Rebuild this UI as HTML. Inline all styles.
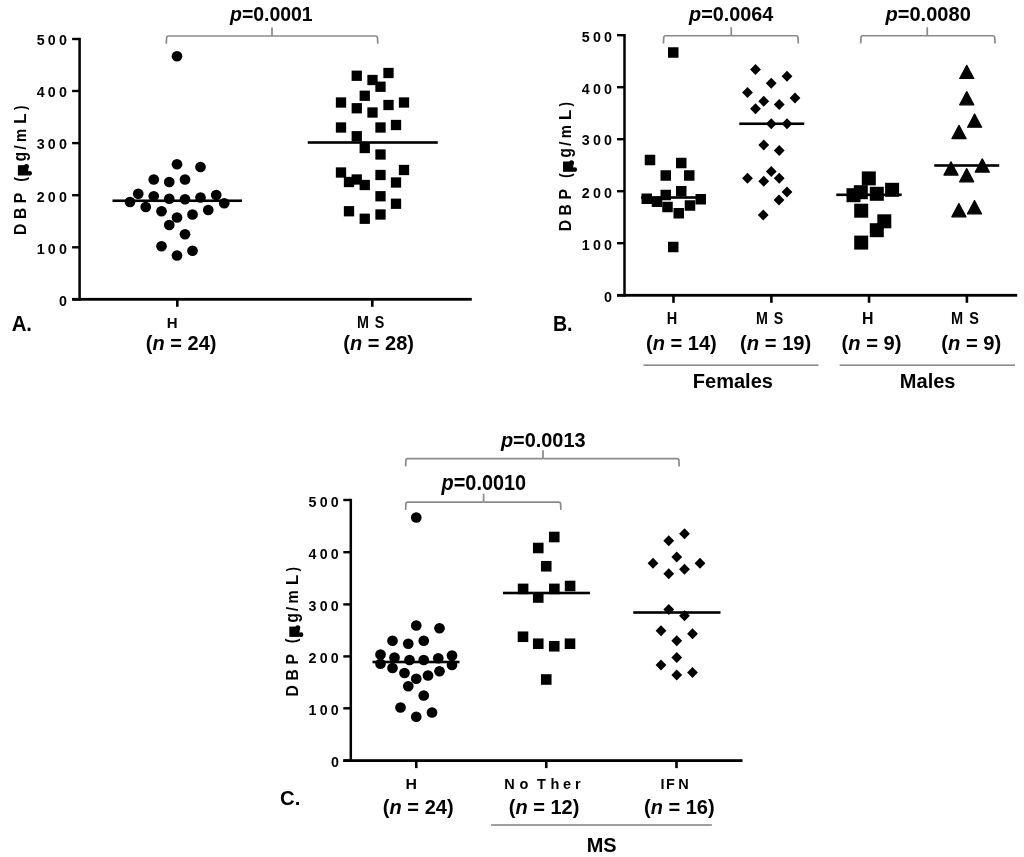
<!DOCTYPE html><html><head><meta charset="utf-8"><title>DBP levels</title><style>html,body{margin:0;padding:0;background:#fff;}svg{display:block;font-family:"Liberation Sans",sans-serif;will-change:transform;}</style></head><body>
<svg width="1024" height="857" viewBox="0 0 1024 857">
<rect width="1024" height="857" fill="#fff"/>
<g fill="#000">
<rect x="78.35" y="37.8" width="2.5" height="262.80" fill="#000"/>
<rect x="72.1" y="297.90" width="399.70" height="2.8" fill="#000"/>
<rect x="72.1" y="37.80" width="7.50" height="2.4" fill="#000"/>
<rect x="72.1" y="89.80" width="7.50" height="2.4" fill="#000"/>
<rect x="72.1" y="141.90" width="7.50" height="2.4" fill="#000"/>
<rect x="72.1" y="194.00" width="7.50" height="2.4" fill="#000"/>
<rect x="72.1" y="246.10" width="7.50" height="2.4" fill="#000"/>
<rect x="72.1" y="298.10" width="7.50" height="2.4" fill="#000"/>
<rect x="176.00" y="299.3" width="2.6" height="7.50" fill="#000"/>
<rect x="371.00" y="299.3" width="2.6" height="7.50" fill="#000"/>
<g transform="matrix(1.0034 0 0 1.0200 36.70 45.40)"><text x="0" y="0" font-size="14.2" font-weight="bold" letter-spacing="3.2">500</text></g>
<g transform="matrix(1.0034 0 0 1.0200 36.70 97.40)"><text x="0" y="0" font-size="14.2" font-weight="bold" letter-spacing="3.2">400</text></g>
<g transform="matrix(1.0034 0 0 1.0200 36.70 149.37)"><text x="0" y="0" font-size="14.2" font-weight="bold" letter-spacing="3.2">300</text></g>
<g transform="matrix(1.0034 0 0 1.0200 36.70 201.60)"><text x="0" y="0" font-size="14.2" font-weight="bold" letter-spacing="3.2">200</text></g>
<g transform="matrix(1.0034 0 0 1.0200 36.70 253.70)"><text x="0" y="0" font-size="14.2" font-weight="bold" letter-spacing="3.2">100</text></g>
<g transform="matrix(1.0034 0 0 1.0200 59.02 305.70)"><text x="0" y="0" font-size="14.2" font-weight="bold" letter-spacing="3.2">0</text></g>
<g transform="translate(0 0)">
<g transform="matrix(1.0489 0 0 0.9500 26.20 234.99)"><g transform="rotate(-90)"><text x="0" y="0" font-size="16.5" font-weight="bold">D</text></g></g>
<g transform="matrix(1.0489 0 0 0.9500 26.20 219.09)"><g transform="rotate(-90)"><text x="0" y="0" font-size="16.5" font-weight="bold">B</text></g></g>
<g transform="matrix(1.0489 0 0 0.9514 26.20 203.19)"><g transform="rotate(-90)"><text x="0" y="0" font-size="16.5" font-weight="bold">P</text></g></g>
<g transform="matrix(0.9806 0 0 0.8842 25.97 181.76)"><g transform="rotate(-90)"><text x="0" y="0" font-size="16.5" font-weight="bold">(</text></g></g>
<g transform="matrix(1.0694 0 0 0.9576 26.26 161.42)"><g transform="rotate(-90)"><text x="0" y="0" font-size="16.5" font-weight="bold">g</text></g></g>
<g transform="matrix(0.9796 0 0 0.9882 26.16 149.75)"><g transform="rotate(-90)"><text x="0" y="0" font-size="16.5" font-weight="bold">/</text></g></g>
<g transform="matrix(1.0333 0 0 0.8960 26.20 142.00)"><g transform="rotate(-90)"><text x="0" y="0" font-size="16.5" font-weight="bold">m</text></g></g>
<g transform="matrix(1.0489 0 0 1.0182 26.20 123.67)"><g transform="rotate(-90)"><text x="0" y="0" font-size="16.5" font-weight="bold">L</text></g></g>
<g transform="matrix(0.9935 0 0 0.8211 26.12 110.10)"><g transform="rotate(-90)"><text x="0" y="0" font-size="16.5" font-weight="bold">)</text></g></g>
<rect x="17.9" y="165.2" width="10.3" height="10.3"/>
<circle cx="26.4" cy="166.4" r="2.5"/>
<circle cx="29.6" cy="173.3" r="2.4"/>
</g>
<path d="M166.29999999999998 43.7L166.6 37.8Q166.6 36 168.4 36L270.8 36Q272 36 272 34.8L272 27.5M272 34.8Q272 36 273.2 36L375.7 36Q377.5 36 377.5 37.8L377.8 43.7" fill="none" stroke="#8a8a8a" stroke-width="1.7"/>
<circle cx="177" cy="56.25" r="5.35"/>
<circle cx="177" cy="164.25" r="5.35"/>
<circle cx="200.5" cy="167" r="5.35"/>
<circle cx="153.75" cy="179.5" r="5.35"/>
<circle cx="169.25" cy="182" r="5.35"/>
<circle cx="185" cy="179.5" r="5.35"/>
<circle cx="138.25" cy="193.75" r="5.35"/>
<circle cx="153.75" cy="196.25" r="5.35"/>
<circle cx="169.25" cy="198.75" r="5.35"/>
<circle cx="185" cy="199.25" r="5.35"/>
<circle cx="200.5" cy="197.5" r="5.35"/>
<circle cx="216.25" cy="195" r="5.35"/>
<circle cx="130" cy="202" r="5.35"/>
<circle cx="224.25" cy="203.25" r="5.35"/>
<circle cx="145.75" cy="207" r="5.35"/>
<circle cx="161.5" cy="211.25" r="5.35"/>
<circle cx="177" cy="217.5" r="5.35"/>
<circle cx="192.5" cy="214.5" r="5.35"/>
<circle cx="208.25" cy="210" r="5.35"/>
<circle cx="169.25" cy="225" r="5.35"/>
<circle cx="185" cy="234.25" r="5.35"/>
<circle cx="161.5" cy="246.25" r="5.35"/>
<circle cx="177" cy="255.5" r="5.35"/>
<circle cx="192.5" cy="250.75" r="5.35"/>
<rect x="112.5" y="199.45" width="129.50" height="2.6" fill="#000"/>
<rect x="351.60" y="70.60" width="10.3" height="10.3"/>
<rect x="367.35" y="74.85" width="10.3" height="10.3"/>
<rect x="383.35" y="67.85" width="10.3" height="10.3"/>
<rect x="375.35" y="81.60" width="10.3" height="10.3"/>
<rect x="359.60" y="90.60" width="10.3" height="10.3"/>
<rect x="335.85" y="97.35" width="10.3" height="10.3"/>
<rect x="351.60" y="103.10" width="10.3" height="10.3"/>
<rect x="367.35" y="107.35" width="10.3" height="10.3"/>
<rect x="383.35" y="99.85" width="10.3" height="10.3"/>
<rect x="398.85" y="97.35" width="10.3" height="10.3"/>
<rect x="335.85" y="122.35" width="10.3" height="10.3"/>
<rect x="351.60" y="131.10" width="10.3" height="10.3"/>
<rect x="375.35" y="122.35" width="10.3" height="10.3"/>
<rect x="390.85" y="119.85" width="10.3" height="10.3"/>
<rect x="359.60" y="142.85" width="10.3" height="10.3"/>
<rect x="375.35" y="149.35" width="10.3" height="10.3"/>
<rect x="335.85" y="167.35" width="10.3" height="10.3"/>
<rect x="343.85" y="176.85" width="10.3" height="10.3"/>
<rect x="351.60" y="174.35" width="10.3" height="10.3"/>
<rect x="359.60" y="179.85" width="10.3" height="10.3"/>
<rect x="375.35" y="169.85" width="10.3" height="10.3"/>
<rect x="390.85" y="177.35" width="10.3" height="10.3"/>
<rect x="398.85" y="164.85" width="10.3" height="10.3"/>
<rect x="375.35" y="191.10" width="10.3" height="10.3"/>
<rect x="390.85" y="198.60" width="10.3" height="10.3"/>
<rect x="343.85" y="206.10" width="10.3" height="10.3"/>
<rect x="359.60" y="213.60" width="10.3" height="10.3"/>
<rect x="375.35" y="209.35" width="10.3" height="10.3"/>
<rect x="307.75" y="141.20" width="130.00" height="2.6" fill="#000"/>
<rect x="623.25" y="34.0" width="2.5" height="262.60" fill="#000"/>
<rect x="617.0" y="293.90" width="400.20" height="2.8" fill="#000"/>
<rect x="617.0" y="34.00" width="7.50" height="2.4" fill="#000"/>
<rect x="617.0" y="86.00" width="7.50" height="2.4" fill="#000"/>
<rect x="617.0" y="138.00" width="7.50" height="2.4" fill="#000"/>
<rect x="617.0" y="190.00" width="7.50" height="2.4" fill="#000"/>
<rect x="617.0" y="242.00" width="7.50" height="2.4" fill="#000"/>
<rect x="617.0" y="294.00" width="7.50" height="2.4" fill="#000"/>
<rect x="672.20" y="295.3" width="2.6" height="7.50" fill="#000"/>
<rect x="770.10" y="295.3" width="2.6" height="7.50" fill="#000"/>
<rect x="867.75" y="295.3" width="2.6" height="7.50" fill="#000"/>
<rect x="965.60" y="295.3" width="2.6" height="7.50" fill="#000"/>
<g transform="matrix(1.0034 0 0 1.0200 581.80 41.50)"><text x="0" y="0" font-size="14.2" font-weight="bold" letter-spacing="3.2">500</text></g>
<g transform="matrix(1.0034 0 0 1.0200 581.80 93.50)"><text x="0" y="0" font-size="14.2" font-weight="bold" letter-spacing="3.2">400</text></g>
<g transform="matrix(1.0034 0 0 1.0200 581.80 145.37)"><text x="0" y="0" font-size="14.2" font-weight="bold" letter-spacing="3.2">300</text></g>
<g transform="matrix(1.0034 0 0 1.0200 581.80 197.50)"><text x="0" y="0" font-size="14.2" font-weight="bold" letter-spacing="3.2">200</text></g>
<g transform="matrix(1.0034 0 0 1.0200 581.80 249.50)"><text x="0" y="0" font-size="14.2" font-weight="bold" letter-spacing="3.2">100</text></g>
<g transform="matrix(1.0034 0 0 1.0200 604.12 301.50)"><text x="0" y="0" font-size="14.2" font-weight="bold" letter-spacing="3.2">0</text></g>
<g transform="translate(545.1 -3.7)">
<g transform="matrix(1.0489 0 0 0.9500 26.20 234.99)"><g transform="rotate(-90)"><text x="0" y="0" font-size="16.5" font-weight="bold">D</text></g></g>
<g transform="matrix(1.0489 0 0 0.9500 26.20 219.09)"><g transform="rotate(-90)"><text x="0" y="0" font-size="16.5" font-weight="bold">B</text></g></g>
<g transform="matrix(1.0489 0 0 0.9514 26.20 203.19)"><g transform="rotate(-90)"><text x="0" y="0" font-size="16.5" font-weight="bold">P</text></g></g>
<g transform="matrix(0.9806 0 0 0.8842 25.97 181.76)"><g transform="rotate(-90)"><text x="0" y="0" font-size="16.5" font-weight="bold">(</text></g></g>
<g transform="matrix(1.0694 0 0 0.9576 26.26 161.42)"><g transform="rotate(-90)"><text x="0" y="0" font-size="16.5" font-weight="bold">g</text></g></g>
<g transform="matrix(0.9796 0 0 0.9882 26.16 149.75)"><g transform="rotate(-90)"><text x="0" y="0" font-size="16.5" font-weight="bold">/</text></g></g>
<g transform="matrix(1.0333 0 0 0.8960 26.20 142.00)"><g transform="rotate(-90)"><text x="0" y="0" font-size="16.5" font-weight="bold">m</text></g></g>
<g transform="matrix(1.0489 0 0 1.0182 26.20 123.67)"><g transform="rotate(-90)"><text x="0" y="0" font-size="16.5" font-weight="bold">L</text></g></g>
<g transform="matrix(0.9935 0 0 0.8211 26.12 110.10)"><g transform="rotate(-90)"><text x="0" y="0" font-size="16.5" font-weight="bold">)</text></g></g>
<rect x="17.9" y="165.2" width="10.3" height="10.3"/>
<circle cx="26.4" cy="166.4" r="2.5"/>
<circle cx="29.6" cy="173.3" r="2.4"/>
</g>
<path d="M663.45 43.45L663.75 37.55Q663.75 35.75 665.55 35.75L730.05 35.75Q731.25 35.75 731.25 34.55L731.25 27.25M731.25 34.55Q731.25 35.75 732.45 35.75L796.2 35.75Q798 35.75 798 37.55L798.3 43.45" fill="none" stroke="#8a8a8a" stroke-width="1.7"/>
<path d="M860.7 43.45L861 37.55Q861 35.75 862.8 35.75L926.05 35.75Q927.25 35.75 927.25 34.55L927.25 27.25M927.25 34.55Q927.25 35.75 928.45 35.75L992.95 35.75Q994.75 35.75 994.75 37.55L995.05 43.45" fill="none" stroke="#8a8a8a" stroke-width="1.7"/>
<rect x="668.00" y="47.25" width="10.5" height="10.5"/>
<rect x="644.75" y="154.75" width="10.5" height="10.5"/>
<rect x="676.00" y="157.75" width="10.5" height="10.5"/>
<rect x="660.50" y="170.25" width="10.5" height="10.5"/>
<rect x="684.00" y="170.25" width="10.5" height="10.5"/>
<rect x="676.00" y="186.00" width="10.5" height="10.5"/>
<rect x="660.50" y="189.75" width="10.5" height="10.5"/>
<rect x="641.50" y="193.50" width="10.5" height="10.5"/>
<rect x="651.75" y="196.50" width="10.5" height="10.5"/>
<rect x="695.50" y="194.00" width="10.5" height="10.5"/>
<rect x="662.25" y="201.75" width="10.5" height="10.5"/>
<rect x="684.75" y="200.25" width="10.5" height="10.5"/>
<rect x="673.50" y="208.00" width="10.5" height="10.5"/>
<rect x="668.00" y="241.75" width="10.5" height="10.5"/>
<rect x="641" y="196.20" width="64.00" height="2.6" fill="#000"/>
<path d="M755.50 64.10L760.90 69.50L755.50 74.90L750.10 69.50Z"/>
<path d="M771.25 77.85L776.65 83.25L771.25 88.65L765.85 83.25Z"/>
<path d="M787.00 70.85L792.40 76.25L787.00 81.65L781.60 76.25Z"/>
<path d="M747.50 87.10L752.90 92.50L747.50 97.90L742.10 92.50Z"/>
<path d="M763.75 95.85L769.15 101.25L763.75 106.65L758.35 101.25Z"/>
<path d="M779.25 99.10L784.65 104.50L779.25 109.90L773.85 104.50Z"/>
<path d="M795.00 92.60L800.40 98.00L795.00 103.40L789.60 98.00Z"/>
<path d="M755.50 103.35L760.90 108.75L755.50 114.15L750.10 108.75Z"/>
<path d="M771.25 118.35L776.65 123.75L771.25 129.15L765.85 123.75Z"/>
<path d="M787.00 118.35L792.40 123.75L787.00 129.15L781.60 123.75Z"/>
<path d="M763.75 139.60L769.15 145.00L763.75 150.40L758.35 145.00Z"/>
<path d="M779.25 145.10L784.65 150.50L779.25 155.90L773.85 150.50Z"/>
<path d="M747.50 172.85L752.90 178.25L747.50 183.65L742.10 178.25Z"/>
<path d="M763.75 175.85L769.15 181.25L763.75 186.65L758.35 181.25Z"/>
<path d="M771.30 166.10L776.70 171.50L771.30 176.90L765.90 171.50Z"/>
<path d="M779.25 172.85L784.65 178.25L779.25 183.65L773.85 178.25Z"/>
<path d="M787.00 186.60L792.40 192.00L787.00 197.40L781.60 192.00Z"/>
<path d="M779.00 194.60L784.40 200.00L779.00 205.40L773.60 200.00Z"/>
<path d="M763.25 209.60L768.65 215.00L763.25 220.40L757.85 215.00Z"/>
<rect x="739.25" y="122.45" width="65.00" height="2.6" fill="#000"/>
<rect x="861.80" y="171.40" width="14" height="14"/>
<rect x="853.80" y="185.20" width="14" height="14"/>
<rect x="846.50" y="188.20" width="14" height="14"/>
<rect x="869.80" y="186.80" width="14" height="14"/>
<rect x="885.10" y="182.80" width="14" height="14"/>
<rect x="854.20" y="203.70" width="14" height="14"/>
<rect x="877.30" y="214.30" width="14" height="14"/>
<rect x="869.80" y="223.20" width="14" height="14"/>
<rect x="854.20" y="235.60" width="14" height="14"/>
<rect x="836.3" y="193.50" width="65.40" height="2.6" fill="#000"/>
<path d="M966.75 65.26L973.81 78.50L959.69 78.50Z" stroke="#000" stroke-width="1.2" stroke-linejoin="round"/>
<path d="M966.75 91.56L973.81 104.80L959.69 104.80Z" stroke="#000" stroke-width="1.2" stroke-linejoin="round"/>
<path d="M974.60 113.96L981.66 127.20L967.54 127.20Z" stroke="#000" stroke-width="1.2" stroke-linejoin="round"/>
<path d="M959.00 125.36L966.06 138.60L951.94 138.60Z" stroke="#000" stroke-width="1.2" stroke-linejoin="round"/>
<path d="M951.00 161.86L958.06 175.10L943.94 175.10Z" stroke="#000" stroke-width="1.2" stroke-linejoin="round"/>
<path d="M966.70 168.56L973.76 181.80L959.64 181.80Z" stroke="#000" stroke-width="1.2" stroke-linejoin="round"/>
<path d="M982.30 158.86L989.36 172.10L975.24 172.10Z" stroke="#000" stroke-width="1.2" stroke-linejoin="round"/>
<path d="M958.90 203.61L965.96 216.85L951.84 216.85Z" stroke="#000" stroke-width="1.2" stroke-linejoin="round"/>
<path d="M974.50 200.56L981.56 213.80L967.44 213.80Z" stroke="#000" stroke-width="1.2" stroke-linejoin="round"/>
<rect x="934.25" y="164.20" width="65.00" height="2.6" fill="#000"/>
<rect x="643.5" y="364.40" width="174.90" height="1.6" fill="#8a8a8a"/>
<rect x="839.6" y="364.40" width="175.40" height="1.6" fill="#8a8a8a"/>
<rect x="349.55" y="498.8" width="2.5" height="263.10" fill="#000"/>
<rect x="343.3" y="759.20" width="399.20" height="2.8" fill="#000"/>
<rect x="343.3" y="498.80" width="7.50" height="2.4" fill="#000"/>
<rect x="343.3" y="551.00" width="7.50" height="2.4" fill="#000"/>
<rect x="343.3" y="603.20" width="7.50" height="2.4" fill="#000"/>
<rect x="343.3" y="655.20" width="7.50" height="2.4" fill="#000"/>
<rect x="343.3" y="707.10" width="7.50" height="2.4" fill="#000"/>
<rect x="343.3" y="759.40" width="7.50" height="2.4" fill="#000"/>
<rect x="414.95" y="760.6" width="2.6" height="7.50" fill="#000"/>
<rect x="544.95" y="760.6" width="2.6" height="7.50" fill="#000"/>
<rect x="675.20" y="760.6" width="2.6" height="7.50" fill="#000"/>
<g transform="matrix(1.0034 0 0 1.0200 308.60 506.50)"><text x="0" y="0" font-size="14.2" font-weight="bold" letter-spacing="3.2">500</text></g>
<g transform="matrix(1.0034 0 0 1.0200 308.60 558.70)"><text x="0" y="0" font-size="14.2" font-weight="bold" letter-spacing="3.2">400</text></g>
<g transform="matrix(1.0034 0 0 1.0200 308.60 610.77)"><text x="0" y="0" font-size="14.2" font-weight="bold" letter-spacing="3.2">300</text></g>
<g transform="matrix(1.0034 0 0 1.0200 308.60 662.90)"><text x="0" y="0" font-size="14.2" font-weight="bold" letter-spacing="3.2">200</text></g>
<g transform="matrix(1.0034 0 0 1.0200 308.60 714.80)"><text x="0" y="0" font-size="14.2" font-weight="bold" letter-spacing="3.2">100</text></g>
<g transform="matrix(1.0034 0 0 1.0200 330.93 767.10)"><text x="0" y="0" font-size="14.2" font-weight="bold" letter-spacing="3.2">0</text></g>
<g transform="translate(271.4 461.4)">
<g transform="matrix(1.0489 0 0 0.9500 26.20 234.99)"><g transform="rotate(-90)"><text x="0" y="0" font-size="16.5" font-weight="bold">D</text></g></g>
<g transform="matrix(1.0489 0 0 0.9500 26.20 219.09)"><g transform="rotate(-90)"><text x="0" y="0" font-size="16.5" font-weight="bold">B</text></g></g>
<g transform="matrix(1.0489 0 0 0.9514 26.20 203.19)"><g transform="rotate(-90)"><text x="0" y="0" font-size="16.5" font-weight="bold">P</text></g></g>
<g transform="matrix(0.9806 0 0 0.8842 25.97 181.76)"><g transform="rotate(-90)"><text x="0" y="0" font-size="16.5" font-weight="bold">(</text></g></g>
<g transform="matrix(1.0694 0 0 0.9576 26.26 161.42)"><g transform="rotate(-90)"><text x="0" y="0" font-size="16.5" font-weight="bold">g</text></g></g>
<g transform="matrix(0.9796 0 0 0.9882 26.16 149.75)"><g transform="rotate(-90)"><text x="0" y="0" font-size="16.5" font-weight="bold">/</text></g></g>
<g transform="matrix(1.0333 0 0 0.8960 26.20 142.00)"><g transform="rotate(-90)"><text x="0" y="0" font-size="16.5" font-weight="bold">m</text></g></g>
<g transform="matrix(1.0489 0 0 1.0182 26.20 123.67)"><g transform="rotate(-90)"><text x="0" y="0" font-size="16.5" font-weight="bold">L</text></g></g>
<g transform="matrix(0.9935 0 0 0.8211 26.12 110.10)"><g transform="rotate(-90)"><text x="0" y="0" font-size="16.5" font-weight="bold">)</text></g></g>
<rect x="17.9" y="165.2" width="10.3" height="10.3"/>
<circle cx="26.4" cy="166.4" r="2.5"/>
<circle cx="29.6" cy="173.3" r="2.4"/>
</g>
<path d="M405.59999999999997 466.4L405.9 460.5Q405.9 458.7 407.7 458.7L541.8 458.7Q543 458.7 543 457.5L543 450.2M543 457.5Q543 458.7 544.2 458.7L677.1 458.7Q678.9 458.7 678.9 460.5L679.1999999999999 466.4" fill="none" stroke="#8a8a8a" stroke-width="1.7"/>
<path d="M405.59999999999997 509.9L405.9 504.0Q405.9 502.2 407.7 502.2L482.40000000000003 502.2Q483.6 502.2 483.6 501.0L483.6 493.7M483.6 501.0Q483.6 502.2 484.8 502.2L558.8000000000001 502.2Q560.6 502.2 560.6 504.0L560.9 509.9" fill="none" stroke="#8a8a8a" stroke-width="1.7"/>
<circle cx="416.25" cy="517.5" r="5.35"/>
<circle cx="416.25" cy="625.5" r="5.35"/>
<circle cx="439.5" cy="628.25" r="5.35"/>
<circle cx="392.5" cy="640.75" r="5.35"/>
<circle cx="408.25" cy="643.75" r="5.35"/>
<circle cx="423.75" cy="640.75" r="5.35"/>
<circle cx="380.5" cy="654.5" r="5.35"/>
<circle cx="394.5" cy="657.5" r="5.35"/>
<circle cx="409.5" cy="660" r="5.35"/>
<circle cx="423.75" cy="660" r="5.35"/>
<circle cx="438.25" cy="658.25" r="5.35"/>
<circle cx="452" cy="655.5" r="5.35"/>
<circle cx="380.5" cy="663.75" r="5.35"/>
<circle cx="452" cy="665" r="5.35"/>
<circle cx="392.5" cy="668" r="5.35"/>
<circle cx="404.5" cy="673" r="5.35"/>
<circle cx="416.25" cy="678.75" r="5.35"/>
<circle cx="428" cy="675.5" r="5.35"/>
<circle cx="439.5" cy="671.25" r="5.35"/>
<circle cx="408.25" cy="686.25" r="5.35"/>
<circle cx="423.75" cy="695.5" r="5.35"/>
<circle cx="400.5" cy="707.5" r="5.35"/>
<circle cx="416.25" cy="716.75" r="5.35"/>
<circle cx="432" cy="712.5" r="5.35"/>
<rect x="372.5" y="660.70" width="87.00" height="2.6" fill="#000"/>
<rect x="548.95" y="531.70" width="10.6" height="10.6"/>
<rect x="532.95" y="542.70" width="10.6" height="10.6"/>
<rect x="540.95" y="560.95" width="10.6" height="10.6"/>
<rect x="517.80" y="583.60" width="10.6" height="10.6"/>
<rect x="549.05" y="583.60" width="10.6" height="10.6"/>
<rect x="564.80" y="580.70" width="10.6" height="10.6"/>
<rect x="532.95" y="592.20" width="10.6" height="10.6"/>
<rect x="517.70" y="631.45" width="10.6" height="10.6"/>
<rect x="532.95" y="638.45" width="10.6" height="10.6"/>
<rect x="548.95" y="640.95" width="10.6" height="10.6"/>
<rect x="564.70" y="638.45" width="10.6" height="10.6"/>
<rect x="540.95" y="674.20" width="10.6" height="10.6"/>
<rect x="503" y="591.70" width="87.00" height="2.6" fill="#000"/>
<path d="M684.50 528.35L689.90 533.75L684.50 539.15L679.10 533.75Z"/>
<path d="M668.75 535.35L674.15 540.75L668.75 546.15L663.35 540.75Z"/>
<path d="M676.75 551.60L682.15 557.00L676.75 562.40L671.35 557.00Z"/>
<path d="M653.00 557.85L658.40 563.25L653.00 568.65L647.60 563.25Z"/>
<path d="M700.00 557.85L705.40 563.25L700.00 568.65L694.60 563.25Z"/>
<path d="M684.50 563.85L689.90 569.25L684.50 574.65L679.10 569.25Z"/>
<path d="M668.75 568.35L674.15 573.75L668.75 579.15L663.35 573.75Z"/>
<path d="M668.75 604.10L674.15 609.50L668.75 614.90L663.35 609.50Z"/>
<path d="M684.50 610.35L689.90 615.75L684.50 621.15L679.10 615.75Z"/>
<path d="M661.00 625.35L666.40 630.75L661.00 636.15L655.60 630.75Z"/>
<path d="M692.50 628.35L697.90 633.75L692.50 639.15L687.10 633.75Z"/>
<path d="M676.75 635.35L682.15 640.75L676.75 646.15L671.35 640.75Z"/>
<path d="M676.75 652.10L682.15 657.50L676.75 662.90L671.35 657.50Z"/>
<path d="M661.00 659.60L666.40 665.00L661.00 670.40L655.60 665.00Z"/>
<path d="M676.75 669.60L682.15 675.00L676.75 680.40L671.35 675.00Z"/>
<path d="M692.50 667.10L697.90 672.50L692.50 677.90L687.10 672.50Z"/>
<rect x="633.25" y="611.20" width="87.25" height="2.6" fill="#000"/>
<rect x="491.1" y="824.20" width="220.80" height="1.6" fill="#8a8a8a"/>
<g transform="matrix(0.9729 0 0 1.0389 229.99 21.44)"><text x="0" y="0" font-size="20" font-weight="bold"><tspan font-style="italic">p</tspan>=0.0001</text></g>
<g transform="matrix(1.0353 0 0 1.0600 166.86 327.60)"><text x="0" y="0" font-size="14.5" font-weight="bold">H</text></g>
<g transform="matrix(0.9867 0 0 1.0800 357.01 327.70)"><text x="0" y="0" font-size="14.5" font-weight="bold" letter-spacing="1">M S</text></g>
<g transform="matrix(1.0262 0 0 1.0222 145.87 349.81)"><text x="0" y="0" font-size="19.5" font-weight="bold">(<tspan font-style="italic">n</tspan> = 24)</text></g>
<g transform="matrix(1.0262 0 0 1.0222 343.37 349.81)"><text x="0" y="0" font-size="19.5" font-weight="bold">(<tspan font-style="italic">n</tspan> = 28)</text></g>
<g transform="matrix(1.0194 0 0 1.0618 11.64 330.80)"><text x="0" y="0" font-size="20" font-weight="bold">A.</text></g>
<g transform="matrix(0.9906 0 0 1.0444 689.10 21.42)"><text x="0" y="0" font-size="20" font-weight="bold"><tspan font-style="italic">p</tspan>=0.0064</text></g>
<g transform="matrix(1.0029 0 0 1.0444 885.50 21.42)"><text x="0" y="0" font-size="20" font-weight="bold"><tspan font-style="italic">p</tspan>=0.0080</text></g>
<g transform="matrix(1.0000 0 0 1.0800 666.70 323.90)"><text x="0" y="0" font-size="14.5" font-weight="bold">H</text></g>
<g transform="matrix(1.0941 0 0 1.0800 861.91 323.90)"><text x="0" y="0" font-size="14.5" font-weight="bold">H</text></g>
<g transform="matrix(0.9829 0 0 1.0800 755.92 323.90)"><text x="0" y="0" font-size="14.5" font-weight="bold" letter-spacing="1">M S</text></g>
<g transform="matrix(1.0019 0 0 1.0800 951.10 323.90)"><text x="0" y="0" font-size="14.5" font-weight="bold" letter-spacing="1">M S</text></g>
<g transform="matrix(1.0292 0 0 1.0278 645.97 349.69)"><text x="0" y="0" font-size="19.5" font-weight="bold">(<tspan font-style="italic">n</tspan> = 14)</text></g>
<g transform="matrix(1.0352 0 0 1.0278 740.06 349.69)"><text x="0" y="0" font-size="19.5" font-weight="bold">(<tspan font-style="italic">n</tspan> = 19)</text></g>
<g transform="matrix(1.0339 0 0 1.0278 841.57 349.69)"><text x="0" y="0" font-size="19.5" font-weight="bold">(<tspan font-style="italic">n</tspan> = 9)</text></g>
<g transform="matrix(1.0357 0 0 1.0278 941.26 349.69)"><text x="0" y="0" font-size="19.5" font-weight="bold">(<tspan font-style="italic">n</tspan> = 9)</text></g>
<g transform="matrix(1.0026 0 0 1.0169 692.75 388.05)"><text x="0" y="0" font-size="20" font-weight="bold">Females</text></g>
<g transform="matrix(1.0019 0 0 1.0169 899.85 388.05)"><text x="0" y="0" font-size="20" font-weight="bold">Males</text></g>
<g transform="matrix(0.9797 0 0 1.0618 552.98 330.80)"><text x="0" y="0" font-size="20" font-weight="bold">B.</text></g>
<g transform="matrix(0.9959 0 0 1.0500 500.90 447.00)"><text x="0" y="0" font-size="20" font-weight="bold"><tspan font-style="italic">p</tspan>=0.0013</text></g>
<g transform="matrix(0.9935 0 0 1.0611 441.60 489.66)"><text x="0" y="0" font-size="20" font-weight="bold"><tspan font-style="italic">p</tspan>=0.0010</text></g>
<g transform="matrix(1.0941 0 0 1.0600 405.61 788.80)"><text x="0" y="0" font-size="14.5" font-weight="bold">H</text></g>
<g transform="translate(504.35 788.80)"><text x="0" y="0" font-size="14.5" font-weight="bold">N</text></g>
<g transform="translate(519.47 788.80)"><text x="0" y="0" font-size="14.5" font-weight="bold">o</text></g>
<g transform="translate(536.95 788.80)"><text x="0" y="0" font-size="14.5" font-weight="bold">T</text></g>
<g transform="translate(550.40 788.80)"><text x="0" y="0" font-size="14.5" font-weight="bold">h</text></g>
<g transform="translate(562.90 788.80)"><text x="0" y="0" font-size="14.5" font-weight="bold">e</text></g>
<g transform="translate(574.90 788.80)"><text x="0" y="0" font-size="14.5" font-weight="bold">r</text></g>
<g transform="translate(660.60 788.70)"><text x="0" y="0" font-size="14.5" font-weight="bold">I</text></g>
<g transform="translate(665.88 788.70)"><text x="0" y="0" font-size="14.5" font-weight="bold">F</text></g>
<g transform="translate(678.20 788.70)"><text x="0" y="0" font-size="14.5" font-weight="bold">N</text></g>
<g transform="matrix(1.0292 0 0 1.0111 382.87 813.86)"><text x="0" y="0" font-size="19.5" font-weight="bold">(<tspan font-style="italic">n</tspan> = 24)</text></g>
<g transform="matrix(1.0262 0 0 1.0111 508.77 813.86)"><text x="0" y="0" font-size="19.5" font-weight="bold">(<tspan font-style="italic">n</tspan> = 12)</text></g>
<g transform="matrix(1.0262 0 0 1.0111 643.97 813.86)"><text x="0" y="0" font-size="19.5" font-weight="bold">(<tspan font-style="italic">n</tspan> = 16)</text></g>
<g transform="matrix(0.9964 0 0 1.0316 586.65 851.84)"><text x="0" y="0" font-size="20" font-weight="bold">MS</text></g>
<g transform="matrix(1.0141 0 0 1.0246 280.04 804.84)"><text x="0" y="0" font-size="20" font-weight="bold">C.</text></g>
</g></svg></body></html>
